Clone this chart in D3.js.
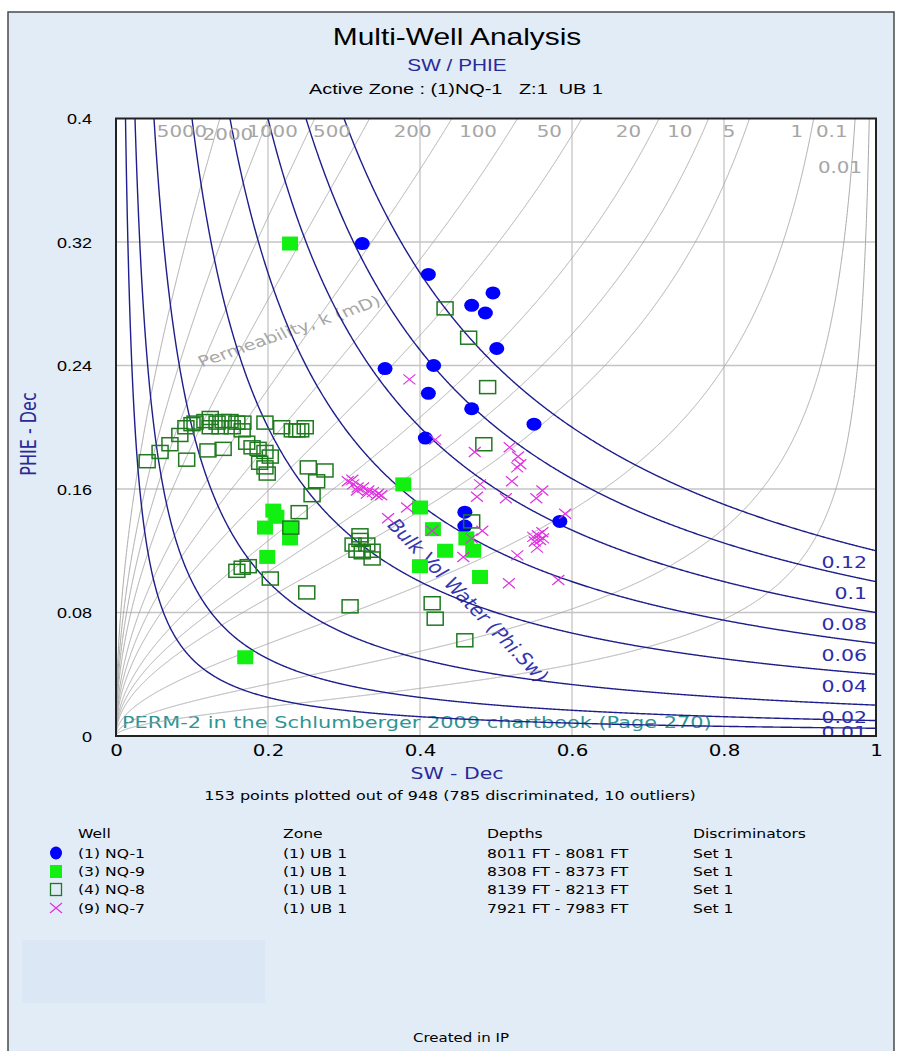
<!DOCTYPE html>
<html>
<head>
<meta charset="utf-8">
<script src="https://cdn.jsdelivr.net/npm/d3@7"></script>
<style>
  html, body { margin: 0; padding: 0; background: #ffffff; }
  svg { display: block; }
  text { white-space: pre; }
</style>
</head>
<body>
<svg id="chart" width="899" height="1051"></svg>
<script>
// ---- Chart data -------------------------------------------------------
const xTicks = [0, 0.2, 0.4, 0.6, 0.8, 1];
const yTicks = [0, 0.08, 0.16, 0.24, 0.32, 0.4];

// Bulk volume water lines (PHIE * SW = constant) and their labels
const bvwValues = [0.005, 0.01, 0.02, 0.04, 0.06, 0.08, 0.1, 0.12];
const bvwLabelValues = [0.01, 0.02, 0.04, 0.06, 0.08, 0.1, 0.12];

// Permeability lines, k in mD
const permValues = [5000, 2000, 1000, 500, 200, 100, 50, 20, 10, 5, 1, 0.1, 0.01];

// Legend table
const wellNames = ["(1) NQ-1", "(3) NQ-9", "(4) NQ-8", "(9) NQ-7"];
const zoneNames = ["(1) UB 1", "(1) UB 1", "(1) UB 1", "(1) UB 1"];
const depthRanges = ["8011 FT - 8081 FT", "8308 FT - 8373 FT", "8139 FT - 8213 FT", "7921 FT - 7983 FT"];
const discriminators = ["Set 1", "Set 1", "Set 1", "Set 1"];

// Points: [SW, PHIE]
const nq1 = [
  [0.324,0.319],[0.411,0.299],[0.496,0.287],[0.468,0.279],[0.486,0.274],
  [0.501,0.251],[0.354,0.238],[0.418,0.240],[0.411,0.222],[0.468,0.212],
  [0.550,0.202],[0.407,0.193],[0.459,0.145],[0.459,0.136],[0.584,0.139]
];
const nq9 = [
  [0.229,0.319],[0.378,0.163],[0.400,0.148],[0.417,0.134],[0.433,0.120],
  [0.461,0.128],[0.470,0.120],[0.400,0.110],[0.479,0.103],[0.207,0.146],
  [0.211,0.142],[0.196,0.135],[0.229,0.135],[0.229,0.128],[0.199,0.116],
  [0.170,0.051]
];
const nq8 = [
  [0.041,0.178],[0.058,0.184],[0.071,0.189],[0.084,0.195],[0.092,0.200],
  [0.100,0.202],[0.093,0.179],[0.104,0.203],[0.117,0.204],[0.124,0.206],
  [0.133,0.203],[0.141,0.204],[0.150,0.204],[0.159,0.203],[0.124,0.200],
  [0.137,0.200],[0.153,0.200],[0.166,0.198],[0.167,0.203],[0.196,0.203],
  [0.218,0.200],[0.232,0.198],[0.238,0.198],[0.243,0.198],[0.249,0.200],
  [0.121,0.185],[0.141,0.186],[0.172,0.190],[0.179,0.187],[0.187,0.186],
  [0.196,0.184],[0.203,0.181],[0.189,0.177],[0.196,0.174],[0.199,0.170],
  [0.253,0.174],[0.275,0.172],[0.264,0.165],[0.258,0.156],[0.241,0.145],
  [0.230,0.135],[0.159,0.107],[0.166,0.109],[0.174,0.110],[0.203,0.102],
  [0.251,0.093],[0.308,0.084],[0.312,0.124],[0.321,0.127],[0.330,0.124],
  [0.337,0.120],[0.324,0.119],[0.317,0.120],[0.337,0.115],[0.321,0.130],
  [0.416,0.086],[0.420,0.076],[0.459,0.062],[0.468,0.139],[0.484,0.189],
  [0.489,0.226],[0.464,0.258],[0.433,0.277]
];
const nq7 = [
  [0.386,0.231],[0.420,0.192],[0.472,0.184],[0.518,0.187],[0.529,0.181],
  [0.532,0.176],[0.528,0.174],[0.521,0.165],[0.479,0.163],[0.561,0.159],
  [0.513,0.154],[0.553,0.154],[0.475,0.155],[0.383,0.148],[0.358,0.141],
  [0.416,0.133],[0.482,0.133],[0.591,0.144],[0.549,0.129],[0.555,0.130],
  [0.561,0.132],[0.551,0.126],[0.558,0.127],[0.554,0.122],[0.562,0.128],
  [0.468,0.128],[0.457,0.116],[0.528,0.117],[0.582,0.101],[0.517,0.099],
  [0.305,0.165],[0.312,0.163],[0.318,0.161],[0.325,0.161],[0.332,0.159],
  [0.338,0.158],[0.345,0.157],[0.317,0.159],[0.330,0.157],[0.343,0.156],
  [0.311,0.166],[0.349,0.156]
];

// ---- Layout ---------------------------------------------------------
const SX = 1.28;                 // horizontal stretch applied to all text
const svg = d3.select("#chart");
const x = d3.scaleLinear().domain([0, 1]).range([116, 876]);
const y = d3.scaleLinear().domain([0, 0.4]).range([736, 118.5]);

const SANS = "'DejaVu Sans', Verdana, sans-serif";
const ARIAL = "'Liberation Sans', Arial, sans-serif";
const NAVY = "#2a2a96";

function label(parent, px, py, str, o = {}) {
  let tf = `translate(${px},${py}) scale(${o.sx ?? SX},1)`;
  if (o.rotate) tf += ` rotate(${o.rotate})`;
  return parent.append("text")
    .attr("transform", tf)
    .attr("font-family", o.family || SANS)
    .attr("font-size", o.size || 13)
    .attr("fill", o.fill || "#000")
    .attr("text-anchor", o.anchor || "start")
    .attr("xml:space", "preserve")
    .text(str);
}

// Panel background
svg.append("rect").attr("x", 8).attr("y", 12).attr("width", 886).attr("height", 1060)
  .attr("fill", "#e2ecf6").attr("stroke", "#4a4a4a").attr("stroke-width", 1.5);
svg.append("rect").attr("x", 22).attr("y", 940).attr("width", 243).attr("height", 63)
  .attr("fill", "#dbe7f4");

// Titles
label(svg, 457, 45, "Multi-Well Analysis", { family: ARIAL, size: 23, anchor: "middle", sx: 1.3 });
label(svg, 457, 71, "SW / PHIE", { family: ARIAL, size: 16, anchor: "middle", fill: NAVY, sx: 1.3 });
label(svg, 456, 94, "Active Zone : (1)NQ-1   Z:1  UB 1", { family: ARIAL, size: 15.3, anchor: "middle", sx: 1.3 });

// Plot area
const plot = svg.append("g");
plot.append("rect").attr("x", x(0)).attr("y", y(0.4))
  .attr("width", x(1) - x(0)).attr("height", y(0) - y(0.4)).attr("fill", "#ffffff");

svg.append("clipPath").attr("id", "plotClip").append("rect")
  .attr("x", x(0)).attr("y", y(0.4)).attr("width", x(1) - x(0)).attr("height", y(0) - y(0.4));
const inner = plot.append("g").attr("clip-path", "url(#plotClip)");

// Grid
inner.append("g").selectAll("line").data(xTicks.slice(1, -1)).join("line")
  .attr("x1", d => x(d)).attr("x2", d => x(d)).attr("y1", y(0)).attr("y2", y(0.4))
  .attr("stroke", "#c4c4c4").attr("stroke-width", 1.3);
inner.append("g").selectAll("line").data(yTicks.slice(1, -1)).join("line")
  .attr("y1", d => y(d)).attr("y2", d => y(d)).attr("x1", x(0)).attr("x2", x(1))
  .attr("stroke", "#c4c4c4").attr("stroke-width", 1.3);

// Chart annotations (drawn beneath curves and points)
label(inner, 122, 728, "PERM-2 in the Schlumberger 2009 chartbook (Page 270)", { size: 16.3, fill: "#2e9494" });
label(inner, 292, 336, "Permeability, k (mD)", { size: 15, fill: "#a6a6a6", anchor: "middle", rotate: -24 });
label(inner, 462, 604, "Bulk Vol Water (Phi.Sw)", { size: 17, fill: "#3535b0", anchor: "middle", rotate: 53 });

const line = d3.line().x(d => x(d[0])).y(d => y(d[1]));

// Permeability lines (Coates form: sqrt(k) = 70 * phi^2 * (1 - Sw) / Sw)
const permPhi = (k, sw) => Math.sqrt(Math.sqrt(k) * sw / (70 * (1 - sw)));
const swGrid = d3.range(0, 0.99995, 0.0002);
inner.append("g").selectAll("path").data(permValues).join("path")
  .attr("d", k => line(swGrid.map(s => [s, permPhi(k, s)]).filter(p => p[1] < 0.46)))
  .attr("fill", "none").attr("stroke", "#a8a8a8").attr("stroke-width", 1);

// Bulk volume water lines
inner.append("g").selectAll("path").data(bvwValues).join("path")
  .attr("d", c => line(d3.range(c / 0.46, 1.0005, 0.001).map(s => [s, c / s])))
  .attr("fill", "none").attr("stroke", "#1e1e8c").attr("stroke-width", 1.4);

// Labels for the bulk volume water lines
bvwLabelValues.forEach(c => {
  label(inner, 867, y(c) + 17.5, String(c), { size: 16, fill: "#2d2daa", anchor: "end" });
});

// Labels for the permeability lines, placed along the top edge
const permLabelPhi = k => (k === 0.01 ? 0.368 : 0.385);
permValues.forEach(k => {
  const phi = permLabelPhi(k);
  const a = 70 * phi * phi;
  const sw = a / (Math.sqrt(k) + a);
  const py = k === 0.01 ? 173 : (k === 2000 ? 140 : 137);
  label(inner, x(sw) - 6, py, String(k), { size: 15.5, fill: "#a6a6a6", anchor: "end" });
});

// ---- Points ----
const pts = inner.append("g");
pts.selectAll("ellipse").data(nq1).join("ellipse")
  .attr("cx", d => x(d[0])).attr("cy", d => y(d[1])).attr("rx", 7.5).attr("ry", 6.5)
  .attr("fill", "#0000ff");
pts.append("g").selectAll("rect").data(nq9).join("rect")
  .attr("x", d => x(d[0]) - 8).attr("y", d => y(d[1]) - 7).attr("width", 16).attr("height", 14)
  .attr("fill", "#12f012");
pts.append("g").selectAll("rect").data(nq8).join("rect")
  .attr("x", d => x(d[0]) - 8).attr("y", d => y(d[1]) - 6.5).attr("width", 16).attr("height", 13)
  .attr("fill", "none").attr("stroke", "#1f7a1f").attr("stroke-width", 1.5);
const cross = (sel, cx, cy) => {
  sel.append("path").attr("d", `M${cx - 6},${cy - 5}L${cx + 6},${cy + 5}M${cx - 6},${cy + 5}L${cx + 6},${cy - 5}`)
    .attr("stroke", "#e030e0").attr("stroke-width", 1.2).attr("fill", "none");
};
const magenta = pts.append("g");
nq7.forEach(d => cross(magenta, x(d[0]), y(d[1])));

// Plot frame
plot.append("rect").attr("x", x(0)).attr("y", y(0.4))
  .attr("width", x(1) - x(0)).attr("height", y(0) - y(0.4))
  .attr("fill", "none").attr("stroke", "#222").attr("stroke-width", 2);

// Axes
const yAxis = svg.append("g").attr("transform", `translate(${x(0)},0)`)
  .call(d3.axisLeft(y).tickValues(yTicks).tickSize(0).tickFormat(d => String(d)));
yAxis.select(".domain").remove();
yAxis.selectAll("text")
  .attr("font-family", ARIAL).attr("font-size", 15).attr("fill", "#000")
  .attr("x", -24 / 1.2).attr("dy", "0.35em").attr("transform", "scale(1.2,1)");

const xAxis = svg.append("g").attr("transform", `translate(0,${y(0)})`)
  .call(d3.axisBottom(x).tickValues(xTicks).tickSize(0).tickFormat(d => String(d)));
xAxis.select(".domain").remove();
xAxis.selectAll("text")
  .attr("font-family", SANS).attr("font-size", 15.5).attr("fill", "#000")
  .attr("y", 9).attr("dy", "0.71em").attr("transform", `scale(${SX},1)`)
  .attr("x", 0);

label(svg, 457, 779, "SW - Dec", { size: 16, fill: NAVY, anchor: "middle" });
label(svg, 36, 434, "PHIE - Dec", { size: 16, fill: NAVY, anchor: "middle", rotate: -90 });
label(svg, 450, 800, "153 points plotted out of 948 (785 discriminated, 10 outliers)", { size: 12.5, anchor: "middle" });

// ---- Legend ----
const legend = svg.append("g");
const cols = [78, 283, 487, 693];
["Well", "Zone", "Depths", "Discriminators"].forEach((h, i) => label(legend, cols[i], 838, h, { size: 12.5, sx: 1.25 }));
const rowY = [858, 876, 894, 913];
wellNames.forEach((w, i) => {
  label(legend, cols[0], rowY[i], w, { size: 12.5, sx: 1.25 });
  label(legend, cols[1], rowY[i], zoneNames[i], { size: 12.5, sx: 1.25 });
  label(legend, cols[2], rowY[i], depthRanges[i], { size: 12.5, sx: 1.25 });
  label(legend, cols[3], rowY[i], discriminators[i], { size: 12.5, sx: 1.25 });
});
legend.append("ellipse").attr("cx", 56).attr("cy", rowY[0] - 5).attr("rx", 6).attr("ry", 6.5).attr("fill", "#0000ff");
legend.append("rect").attr("x", 50).attr("y", rowY[1] - 11).attr("width", 12).attr("height", 13).attr("fill", "#12f012");
legend.append("rect").attr("x", 50.5).attr("y", rowY[2] - 10.5).attr("width", 11).attr("height", 12)
  .attr("fill", "none").attr("stroke", "#1f7a1f").attr("stroke-width", 1.3);
cross(legend, 56, rowY[3] - 5);

label(svg, 461, 1042, "Created in IP", { size: 12.5, anchor: "middle", sx: 1.2 });
</script>
</body>
</html>
